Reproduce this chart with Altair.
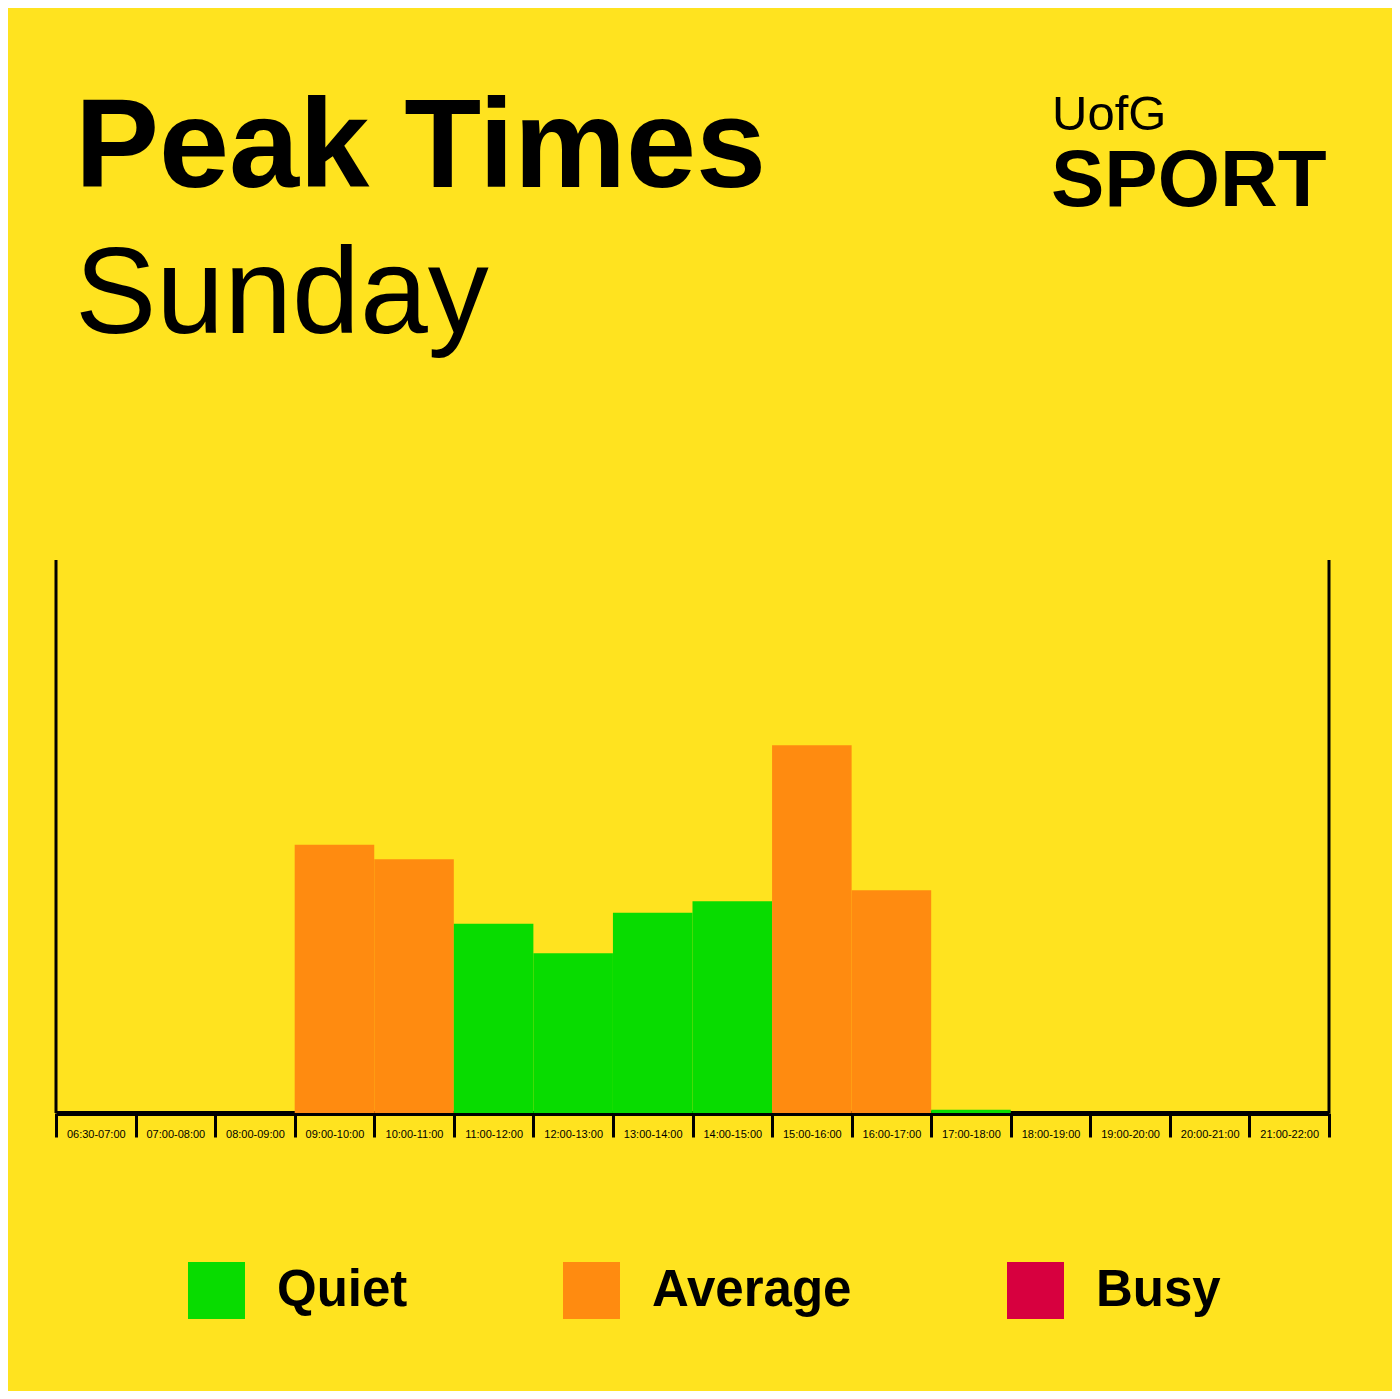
import altair as alt
import pandas as pd

slots = ["06:30-07:00", "07:00-08:00", "08:00-09:00", "09:00-10:00", "10:00-11:00",
         "11:00-12:00", "12:00-13:00", "13:00-14:00", "14:00-15:00", "15:00-16:00",
         "16:00-17:00", "17:00-18:00", "18:00-19:00", "19:00-20:00", "20:00-21:00",
         "21:00-22:00"]
values = [0, 0, 0, 48.5, 45.9, 34.2, 28.9, 36.2, 38.3, 66.5, 40.3, 0.6, 0, 0, 0, 0]
status = ["Quiet", "Quiet", "Quiet", "Average", "Average", "Quiet", "Quiet", "Quiet",
          "Quiet", "Average", "Average", "Quiet", "Quiet", "Quiet", "Quiet", "Quiet"]
levels = ["Quiet", "Average", "Busy"]
level_colors = ["#08DC00", "#FF8B10", "#D7003F"]

BG = "#FFE31F"
W, H = 1273, 553

df = pd.DataFrame({"slot": slots, "value": values, "status": status})

bars = alt.Chart(df).mark_bar(opacity=1).encode(
    x=alt.X("slot:N", sort=slots,
            scale=alt.Scale(paddingInner=0, paddingOuter=0),
            axis=alt.Axis(title=None, labelAngle=0, domainColor="black", domainWidth=5,
                          tickColor="black", tickWidth=3, tickSize=24, tickBand="extent",
                          labelFontSize=11, labelFont="Liberation Sans", labelColor="black",
                          labelPadding=-9, labelBaseline="top")),
    y=alt.Y("value:Q", axis=None, scale=alt.Scale(domain=[0, 100])),
    color=alt.Color("status:N",
                    scale=alt.Scale(domain=levels, range=level_colors),
                    legend=alt.Legend(orient="none", legendX=132, legendY=702,
                                      direction="horizontal", title=None,
                                      symbolType="square", symbolSize=3249,
                                      symbolStrokeWidth=0, symbolOpacity=1,
                                      labelFontSize=51, labelFont="Liberation Sans",
                                      labelFontWeight="bold", labelColor="black",
                                      labelOffset=32, columnPadding=155,
                                      labelLimit=600, padding=0)),
)

one = pd.DataFrame({"a": [1]})
left_line = alt.Chart(one).mark_rule(color="black", strokeWidth=3).encode(
    x=alt.value(0), y=alt.value(0), y2=alt.value(H))
right_line = alt.Chart(one).mark_rule(color="black", strokeWidth=3).encode(
    x=alt.value(W), y=alt.value(0), y2=alt.value(H))

def txt(s, x, y, size, weight):
    return alt.Chart(pd.DataFrame({"t": [s]})).mark_text(
        align="left", baseline="alphabetic", font="Liberation Sans",
        fontSize=size, fontWeight=weight, color="black"
    ).encode(text="t:N", x=alt.value(x), y=alt.value(y))

title1 = txt("Peak Times", 19, -373, 126, "bold")
title2 = txt("Sunday", 19, -227, 122, "normal")
logo1 = txt("UofG", 996, -430, 49, "normal")
logo2 = txt("SPORT", 995, -354, 80, "bold")

chart = alt.layer(bars, left_line, right_line, title1, title2, logo1, logo2).properties(
    width=W, height=H,
    padding={"left": 48, "top": 552, "right": 63, "bottom": 278},
    autosize=alt.AutoSizeParams(type="none"),
    background=BG,
).configure_view(strokeWidth=0)

chart.save("out.html", embed_options={"renderer": "svg", "actions": False})
